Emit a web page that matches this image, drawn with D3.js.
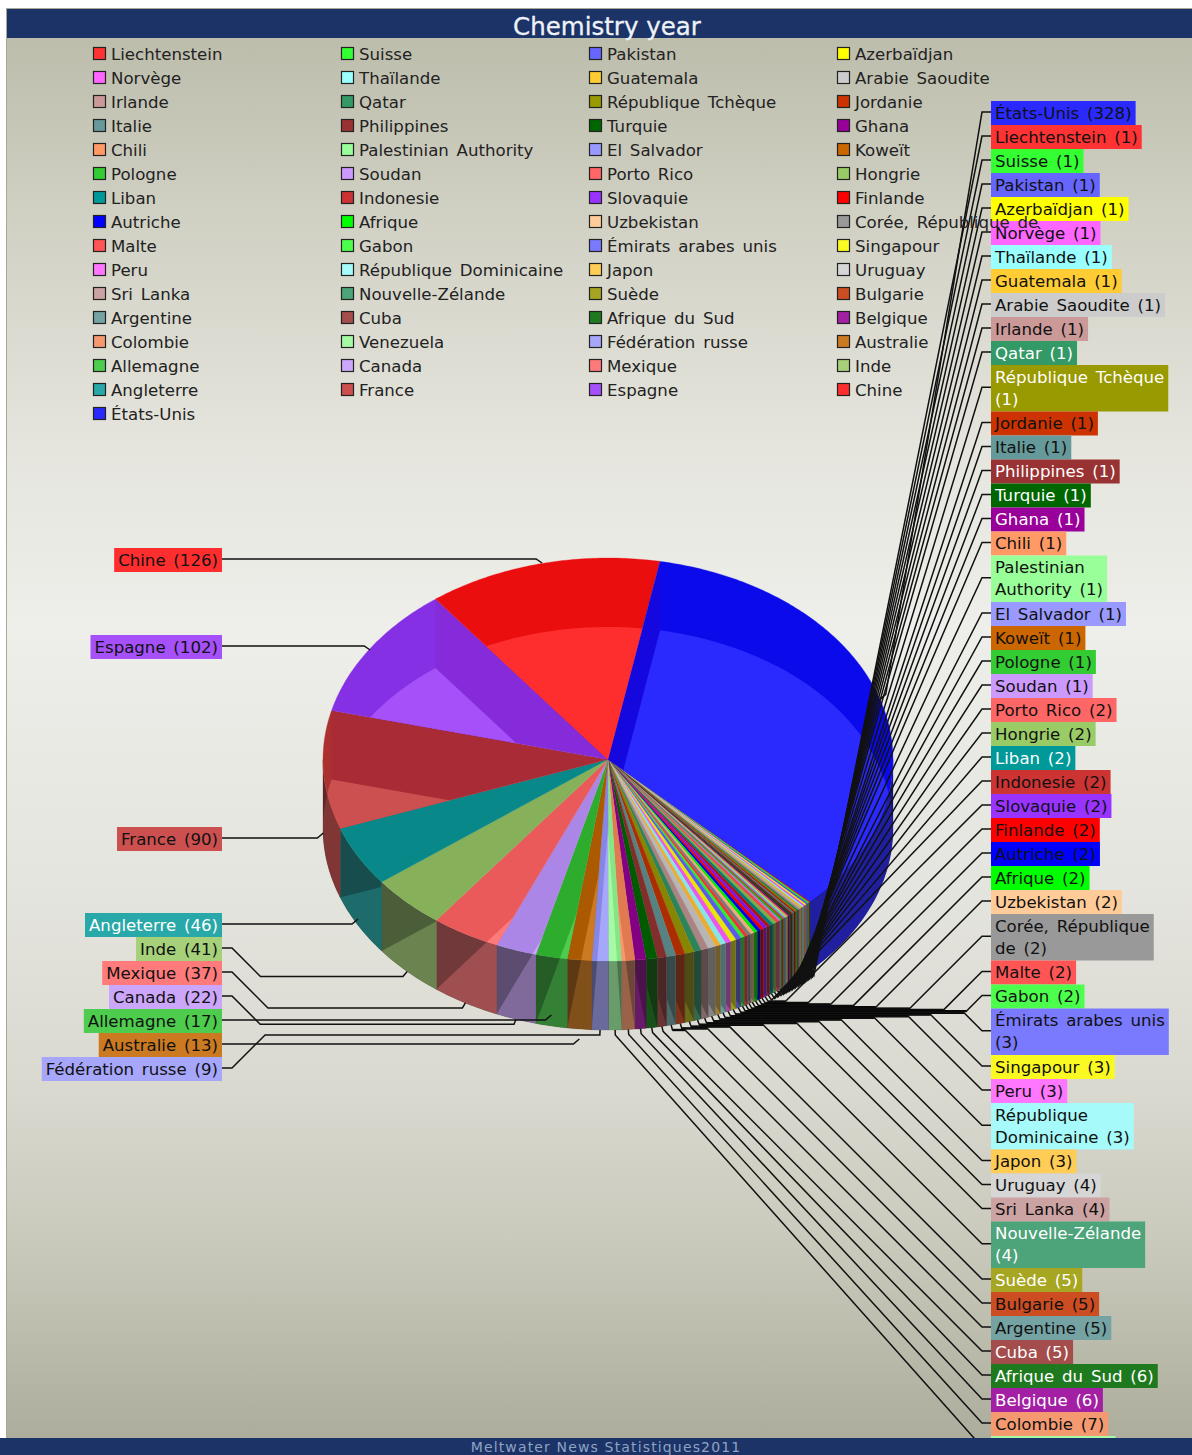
<!DOCTYPE html>
<html><head><meta charset="utf-8">
<script src="https://cdnjs.cloudflare.com/ajax/libs/d3/7.8.5/d3.min.js"></script>
<style>html,body{margin:0;padding:0;background:#fff}svg{display:block}text{font-family:"DejaVu Sans",Verdana,sans-serif}</style>
</head><body><svg id="c" width="1192" height="1455"></svg>
<script>
const titleText="Chemistry year";
const footerText="Meltwater News Statistiques2011";
const categories=["Liechtenstein","Suisse","Pakistan","Azerbaïdjan","Norvège","Thaïlande","Guatemala","Arabie Saoudite","Irlande","Qatar","République Tchèque","Jordanie","Italie","Philippines","Turquie","Ghana","Chili","Palestinian Authority","El Salvador","Koweït","Pologne","Soudan","Porto Rico","Hongrie","Liban","Indonesie","Slovaquie","Finlande","Autriche","Afrique","Uzbekistan","Corée, République de","Malte","Gabon","Émirats arabes unis","Singapour","Peru","République Dominicaine","Japon","Uruguay","Sri Lanka","Nouvelle-Zélande","Suède","Bulgarie","Argentine","Cuba","Afrique du Sud","Belgique","Colombie","Venezuela","Fédération russe","Australie","Allemagne","Canada","Mexique","Inde","Angleterre","France","Espagne","Chine","États-Unis"];
const values=[1,1,1,1,1,1,1,1,1,1,1,1,1,1,1,1,1,1,1,1,1,1,2,2,2,2,2,2,2,2,2,2,2,2,3,3,3,3,3,4,4,4,5,5,5,5,6,6,7,7,9,13,17,22,37,41,46,90,102,126,328];
const colors=["#ff3333","#33ff33","#6666ff","#ffff00","#ff66ff","#99ffff","#ffcc33","#cccccc","#cc9999","#339966","#999900","#cc3300","#669999","#993333","#006600","#990099","#ff9966","#99ff99","#9999ff","#cc6600","#33cc33","#cc99ff","#ff6666","#99cc66","#009999","#cc3333","#9933ff","#ff0000","#0000ff","#00ff00","#ffcc99","#999999","#ff5555","#4dff4d","#7a7aff","#fafa22","#ff77ff","#a6fafa","#ffcc55","#d6d6d6","#cca3a3","#4da37a","#a6a622","#cc4d22","#75a3a3","#a34d4d","#1f7a1f","#a31fa3","#f59a70","#a6faa6","#a6a6fa","#cc7a22","#4dcc4d","#cca6fa","#ff7a7a","#a6d17a","#28a8a8","#cd5050","#a650fa","#ff2e2e","#2a2aff"];
const whiteLabels=["Qatar","République Tchèque","Philippines","Turquie","Ghana","Liban","Angleterre","Nouvelle-Zélande","Suède","Cuba","Afrique du Sud","Belgique"];
const firstLines={"République Tchèque":"République Tchèque","Palestinian Authority":"Palestinian","Corée, République de":"Corée, République","Émirats arabes unis":"Émirats arabes unis","République Dominicaine":"République","Nouvelle-Zélande":"Nouvelle-Zélande"};
const leftLabels=["Fédération russe","Australie","Allemagne","Canada","Mexique","Inde","Angleterre","France","Espagne","Chine"];
const leftLabelCenters=[1069,1045,1021,997,973,949,925,839,647,560];

const W=1192,H=1455,fontSize=16.6,wordSp=2.5,depth=69,rightX=991,leftX=222,rowH=24,twoRowH=46.5;
const deg=Math.PI/180;
const x=d3.scaleLinear().domain([-1,1]).range([323,893]);
const y=d3.scaleLinear().domain([-1,1]).range([558,961]);
const svg=d3.select("#c");
const defs=svg.append("defs");
const bg=defs.append("linearGradient").attr("id","bg").attr("x1",0).attr("x2",0).attr("y1",0).attr("y2",1);
[[0,"#bdbdac"],[.12,"#cfcfc2"],[.3,"#e6e6df"],[.42,"#eeeeea"],[.6,"#e5e5df"],[.75,"#d9d9d0"],[.88,"#c6c6b8"],[1,"#adad9d"]].forEach(s=>bg.append("stop").attr("offset",s[0]).attr("stop-color",s[1]));
svg.append("rect").attr("x",6).attr("y",8).attr("width",W-6).attr("height",H-8).attr("fill","#a8a898");
svg.append("rect").attr("x",7).attr("y",38).attr("width",W-7).attr("height",1400).attr("fill","url(#bg)");

const pts=(a,off=0)=>[x(Math.sin(a)),y(-Math.cos(a))+off];
const line=d3.line();
const arcPts=(a0,a1,off=0)=>d3.range(0,Math.ceil((a1-a0)/(.7*deg))+1).map(i=>pts(Math.min(a1,a0+i*.7*deg),off));
const wedge=(a0,a1,off=0)=>line([[x(0),y(0)+off],...arcPts(a0,a1,off)])+"Z";
const pieData=d3.pie().sort(null).value(d=>d).startAngle(134.8*deg).endAngle(494.8*deg)(values);
const slices=pieData.map((p,i)=>({name:categories[i],value:values[i],color:colors[i],a0:p.startAngle,a1:p.endAngle,mid:(p.startAngle+p.endAngle)/2,i}));
const topDark=c=>{const r=d3.rgb(c),f=v=>Math.max(0,v>=240?v-20:v-32);return d3.rgb(f(r.r),f(r.g),f(r.b)).formatHex();};
const mul=(c,k)=>{const r=d3.rgb(c);return d3.rgb(r.r*k+6,r.g*k+6,r.b*k+6).formatHex();};

slices.forEach(s=>{
  defs.append("clipPath").attr("id","b"+s.i).append("path").attr("d",wedge(s.a0,s.a1,depth));
  defs.append("clipPath").attr("id","t"+s.i).append("path").attr("d",wedge(s.a0,s.a1,0));
});
const pie=svg.append("g");
const wallWins=[[90*deg,270*deg],[450*deg,630*deg]];
slices.forEach(s=>wallWins.forEach(w=>{
  const a=Math.max(s.a0,w[0]),b=Math.min(s.a1,w[1]);
  if(b<=a)return;
  const d=line([...arcPts(a,b,0),...arcPts(a,b,depth).reverse()])+"Z";
  pie.append("path").attr("d",d).attr("fill",mul(s.color,.42)).attr("stroke",mul(s.color,.42)).attr("stroke-width",.3);
  pie.append("path").attr("d",d).attr("fill",mul(s.color,.6)).attr("clip-path",`url(#b${s.i})`);
}));
slices.forEach(s=>{
  const dk=topDark(s.color);
  pie.append("path").attr("d",wedge(s.a0,s.a1)).attr("fill",dk).attr("stroke",dk).attr("stroke-width",.3);
});
slices.forEach(s=>{
  pie.append("path").attr("d",wedge(s.a0,s.a1)).attr("fill",s.color).attr("clip-path",`url(#b${s.i})`);
});
slices.forEach(s=>{
  [[s.a0,1],[s.a1,-1]].forEach(([a,side])=>{
    if(Math.cos(a)<=0||Math.sin(a)*side<=0)return;
    const d=line([[x(0),y(0)],pts(a),pts(a,depth),[x(0),y(0)+depth]])+"Z";
    pie.append("path").attr("d",d).attr("fill","#800070").attr("opacity",.1).attr("clip-path",`url(#t${s.i})`);
  });
});

const meas=svg.append("text").attr("font-size",fontSize).attr("word-spacing",wordSp).attr("visibility","hidden");
const tw=t=>meas.text(t).node().getComputedTextLength();
const byName=Object.fromEntries(slices.map(s=>[s.name,s]));
const splitLabel=s=>{
  const full=`${s.name} (${s.value})`,f=firstLines[s.name];
  return f?[f,full.slice(f.length+1)]:[full];
};
const rightOrder=[byName["États-Unis"],...slices.filter(s=>!leftLabels.includes(s.name)&&s.name!=="États-Unis")];
let cur=101;
const labels=[];
rightOrder.forEach(s=>{
  const lines=splitLabel(s),h=lines.length===1?rowH:twoRowH;
  labels.push({s,lines,top:cur,h,side:1}); cur+=h;
});
leftLabels.forEach((n,i)=>{const s=byName[n];labels.push({s,lines:splitLabel(s),top:leftLabelCenters[i]-12,h:rowH,side:-1});});

const lead=svg.append("g").attr("fill","none").attr("stroke","#111").attr("stroke-width",1.5);
labels.forEach(l=>{
  const s=l.s,front=Math.cos(s.mid)<.1,yl=l.top+l.h/2-1,A=[l.side>0?rightX:leftX,yl];
  const A2=[l.side>0?rightX-9:leftX+10,yl];
  const R=pts(s.mid,front?depth:0);
  const sx=Math.sin(s.mid);
  let E=[R[0]+sx*6,R[1]+(front?5:-5)];
  let p;
  if(l.side<0&&Math.abs(yl-R[1])<20){
    E=[R[0]-6,yl]; const Rn=[R[0],yl+(front?-5:4)];
    p=[A,E,Rn];
  }else{
    const dy=Math.abs(E[1]-yl),kx=A2[0]-l.side*dy;
    if(l.side*(kx-E[0])>0){
      p=[A,A2,[kx,E[1]],E,R];
      if(l.side>0) lead.append("path").attr("d",line([[kx,E[1]],E])).attr("stroke","#000").attr("stroke-width",2.4);
    }
    else p=[A,A2,E,R];
  }
  lead.append("path").attr("d",line(p));
});

const lb=svg.append("g").attr("font-size",fontSize).attr("word-spacing",wordSp);
labels.forEach(l=>{
  const w=d3.max(l.lines,tw)+8;
  const x0=l.side>0?rightX:leftX-w;
  lb.append("rect").attr("x",x0).attr("y",l.top).attr("width",w).attr("height",l.h).attr("fill",l.s.color);
  l.lines.forEach((t,i)=>lb.append("text").attr("x",x0+4).attr("y",l.top+12+i*22).attr("dy",".36em").attr("fill",whiteLabels.includes(l.s.name)?"#fff":"#111").text(t));
});

const lg=svg.append("g").attr("font-size",fontSize).attr("word-spacing",wordSp);
const legendCol=d3.scalePoint().domain(d3.range(4)).range([93,837]);
slices.forEach((s,i)=>{
  const cx=legendCol(i%4),cy=54+rowH*Math.floor(i/4);
  lg.append("rect").attr("x",cx+.5).attr("y",cy-6.5).attr("width",12).attr("height",12).attr("fill",s.color).attr("stroke","#222").attr("stroke-width",1.2);
  lg.append("text").attr("x",cx+18).attr("y",cy).attr("dy",".36em").attr("fill","#222").text(s.name);
});

svg.append("rect").attr("x",7).attr("y",9).attr("width",W-7).attr("height",29).attr("fill","#1b3366");
svg.append("text").attr("x",607).attr("y",26).attr("dy",".36em").attr("text-anchor","middle").attr("font-size",24.5).attr("fill","#eef2f8").attr("stroke","#eef2f8").attr("stroke-width",.3).text(titleText);
svg.append("rect").attr("x",0).attr("y",1438).attr("width",W).attr("height",17).attr("fill","#1b3366");
svg.append("text").attr("x",606).attr("y",1451.5).attr("text-anchor","middle").attr("font-size",14).attr("letter-spacing",1.15).attr("fill","#8fa3c4").text(footerText);
</script></body></html>
